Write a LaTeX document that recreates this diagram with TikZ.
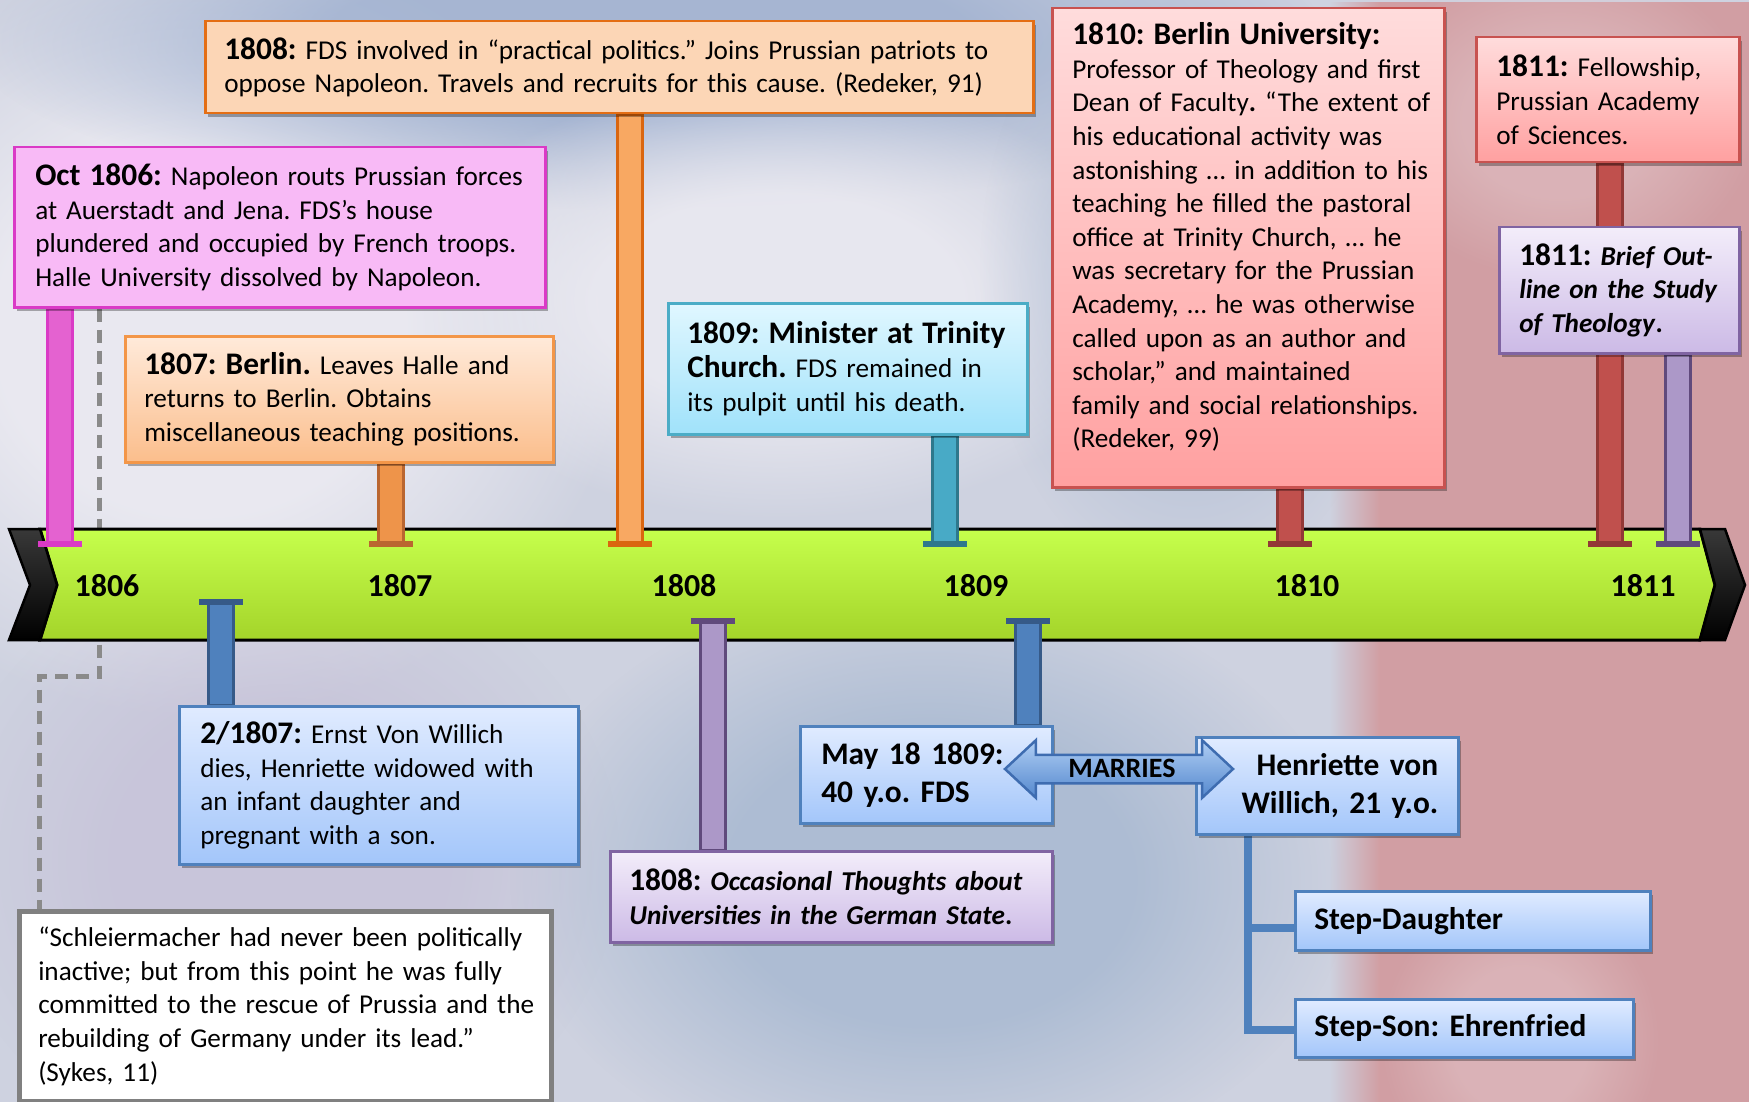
\documentclass[tikz,border=0pt]{standalone}
\usepackage{fontspec}
\setmainfont{Carlito}
\usetikzlibrary{calc,shadows,shapes.arrows,fadings}

% box and stem palette
\definecolor{pinkfill}{RGB}{248,186,246}
\definecolor{pinkrim}{RGB}{218,58,198}
\definecolor{pinkstem}{RGB}{228,98,208}
\definecolor{orgtop}{RGB}{255,234,218}
\definecolor{orgbot}{RGB}{251,190,140}
\definecolor{orgrim}{RGB}{243,150,72}
\definecolor{peachfill}{RGB}{252,214,182}
\definecolor{peachrim}{RGB}{228,110,20}
\definecolor{orgstemA}{RGB}{238,148,74}
\definecolor{orgstemArim}{RGB}{186,102,48}
\definecolor{orgstemB}{RGB}{248,168,98}
\definecolor{orgstemBrim}{RGB}{218,102,15}
\definecolor{cyantop}{RGB}{224,247,255}
\definecolor{cyanbot}{RGB}{160,226,250}
\definecolor{cyanrim}{RGB}{75,172,198}
\definecolor{tealstem}{RGB}{72,170,198}
\definecolor{tealrim}{RGB}{46,120,140}
\definecolor{redtop}{RGB}{255,220,220}
\definecolor{redbot}{RGB}{255,160,160}
\definecolor{redrim}{RGB}{200,82,80}
\definecolor{redstem}{RGB}{192,80,77}
\definecolor{redstemrim}{RGB}{146,56,54}
\definecolor{lavtop}{RGB}{243,237,250}
\definecolor{lavbot}{RGB}{204,186,230}
\definecolor{lavrim}{RGB}{128,100,162}
\definecolor{lavstem}{RGB}{172,152,200}
\definecolor{lavstemrim}{RGB}{96,74,124}
\definecolor{bluetop}{RGB}{224,235,255}
\definecolor{bluebot}{RGB}{163,198,250}
\definecolor{bluerim}{RGB}{79,129,189}
\definecolor{bluestem}{RGB}{79,129,189}
\definecolor{bluestemrim}{RGB}{54,90,136}
\definecolor{limetop}{RGB}{198,255,76}
\definecolor{limebot}{RGB}{164,212,42}
\definecolor{guidegray}{RGB}{138,138,138}
\definecolor{quoterim}{RGB}{128,128,128}
\definecolor{arrowtop}{RGB}{176,206,244}
\definecolor{arrowbot}{RGB}{84,136,206}
\definecolor{arrowrim}{RGB}{62,108,176}
% backdrop tones
\definecolor{bgbase}{RGB}{206,210,224}
\definecolor{bgpale}{RGB}{236,235,242}
\definecolor{bgsteel}{RGB}{150,170,205}
\definecolor{bgmist}{RGB}{172,187,211}
\definecolor{bglilac}{RGB}{196,189,214}
\definecolor{bgslate}{RGB}{165,183,208}
\definecolor{bgrose}{RGB}{210,146,148}
\definecolor{bgblush}{RGB}{226,196,200}

% soft blob: opaque core, fading rim
\pgfdeclareradialshading{plateaushade}{\pgfpointorigin}{color(0bp)=(white); color(12bp)=(white); color(25bp)=(black); color(50bp)=(black)}
\pgfdeclarefading{plateau}{\pgfuseshading{plateaushade}}
% panel with a soft left edge
\pgfdeclarehorizontalshading{leftedgeshade}{100bp}{color(0bp)=(black); color(25bp)=(black); color(31bp)=(white); color(100bp)=(white)}
\pgfdeclarefading{leftsoft}{\pgfuseshading{leftedgeshade}}

\pgfdeclarelayer{photo}
\pgfdeclarelayer{guide}
\pgfdeclarelayer{band}
\pgfdeclarelayer{stems}
\pgfsetlayers{photo,guide,band,stems,main}

% heading run inside an event box
\newcommand\hd[1]{{\fontsize{31.4}{33.6}\selectfont\bfseries #1}}
% stem from a foot on the time band to a box edge
\newcommand\poststem[4]{%
  \filldraw[fill=#3, draw=#4, line width=3pt] ($(#1)+(-12.5,0)$) rectangle ($(#1 |- #2)+(12.5,0)$);
  \fill[#4] ($(#1)+(-22,-3)$) rectangle ($(#1)+(22,3)$);
}

\begin{document}
\begin{tikzpicture}[x=1pt, y=-1pt,
  flush/.style={align=left, execute at begin node={\rightskip=-80pt plus 1fil\relax}},
  geom/.style n args={3}{minimum width=#1pt, minimum height=#2pt, inner xsep=#3pt, text width={#1pt-2*#3pt}},
  evbox/.style={rectangle, anchor=north west, inner ysep=0pt, line width=2.5pt, text=black,
    font=\fontsize{27.2}{33.6}\selectfont\frenchspacing,
    drop shadow={shadow xshift=3pt, shadow yshift=-4pt, opacity=0.3, fill=black}},
  pinkbox/.style={evbox, fill=pinkfill, draw=pinkrim},
  orangebox/.style={evbox, top color=orgtop, bottom color=orgbot, draw=orgrim},
  peachbox/.style={evbox, fill=peachfill, draw=peachrim},
  cyanbox/.style={evbox, top color=cyantop, bottom color=cyanbot, draw=cyanrim},
  redbox/.style={evbox, top color=redtop, bottom color=redbot, draw=redrim},
  lavbox/.style={evbox, top color=lavtop, bottom color=lavbot, draw=lavrim},
  bluebox/.style={evbox, top color=bluetop, bottom color=bluebot, draw=bluerim},
  quotebox/.style={evbox, fill=white, draw=quoterim, line width=4.5pt},
  bigbold/.style={font=\fontsize{31.4}{38}\selectfont\bfseries\frenchspacing},
  yearlbl/.style={inner sep=0pt, font=\fontsize{32}{34}\selectfont\bfseries},
  guideline/.style={draw=guidegray, line width=5pt, dash pattern=on 13pt off 8pt},
  branch/.style={draw=bluestem, line width=8pt}
]
\useasboundingbox (0,0) rectangle (1749,1102);

% faded portrait backdrop
\begin{pgfonlayer}{photo}
  \fill[bgbase] (0,0) rectangle (1749,1102);
  \foreach \col/\cx/\cy/\rx/\ry/\op in {
    bgpale/200/330/430/390/0.9,
    bgsteel/650/40/680/170/0.7,
    bgpale/780/300/380/220/0.85,
    bgmist/1190/270/210/320/0.6,
    bglilac/280/860/340/310/0.6,
    bgslate/930/880/420/300/0.8}
    {\fill[\col, opacity=\op, path fading=plateau] (\cx,\cy) ellipse [x radius=\rx, y radius=\ry];}
  \fill[bgrose, opacity=0.8, path fading=leftsoft] (1330,0) rectangle (1749,1102);
  \foreach \cx/\cy/\rx/\ry in {1560/120/200/160, 1520/1040/140/150}
    {\fill[bgblush, opacity=0.55, path fading=plateau] (\cx,\cy) ellipse [x radius=\rx, y radius=\ry];}
\end{pgfonlayer}

% time band with chevron ends
\begin{pgfonlayer}{band}
  \path[top color=limetop, bottom color=limebot, draw=black, line width=3pt]
    (40,529) -- (1700,529) -- (1715,585) -- (1700,640) -- (40,640) -- (57,585) -- cycle;
  \path[top color=black!78, bottom color=black, draw=black, line width=2.5pt]
    (9,529) -- (40,529) -- (57,585) -- (40,640) -- (9,640) -- (30,585) -- cycle;
  \path[top color=black!78, bottom color=black, draw=black, line width=2.5pt]
    (1700,529) -- (1725,529) -- (1745,585) -- (1725,640) -- (1700,640) -- (1715,585) -- cycle;
\end{pgfonlayer}

\node[yearlbl] (y1806) at (107,586) {1806};
\node[yearlbl] (y1807) at (400,586) {1807};
\node[yearlbl] (y1808) at (684,586) {1808};
\node[yearlbl] (y1809) at (976,586) {1809};
\node[yearlbl] (y1810) at (1307,586) {1810};
\node[yearlbl] (y1811) at (1643,586) {1811};

% events above the band
\node[pinkbox, flush, geom={531}{160}{21}] (oct) at (13,146)
  {\hd{Oct 1806:} Napoleon routs Prussian forces\\at Auerstadt and Jena. FDS’s house\\plundered and occupied by French troops.\\Halle University dissolved by Napoleon.};
\node[orangebox, flush, geom={428}{126}{19}] (berlin) at (124,335)
  {\hd{1807: Berlin.} Leaves Halle and\\returns to Berlin. Obtains\\miscellaneous teaching positions.};
\node[peachbox, flush, geom={828}{92}{19}] (politics) at (204,20)
  {\hd{1808:} FDS involved in “practical politics.” Joins Prussian patriots to\\oppose Napoleon. Travels and recruits for this cause. (Redeker, 91)};
\node[cyanbox, flush, geom={359}{131}{19}] (trinity) at (667,302)
  {\hd{1809: Minister at Trinity}\\\hd{Church.} FDS remained in\\its pulpit until his death.};
\node[redbox, flush, geom={392}{479}{20}] (univ) at (1051,7)
  {\hd{1810: Berlin University:}\\Professor of Theology and first\\Dean of Faculty\textbf{.} “The extent of\\his educational activity was\\astonishing … in addition to his\\teaching he filled the pastoral\\office at Trinity Church, … he\\was secretary for the Prussian\\Academy, … he was otherwise\\called upon as an author and\\scholar,” and maintained\\family and social relationships.\\(Redeker, 99)\rule[-25pt]{0pt}{1pt}};
\node[redbox, flush, geom={263}{125}{20}] (fellow) at (1475,36)
  {\hd{1811:} Fellowship,\\Prussian Academy\\of Sciences.};
\node[lavbox, flush, geom={240}{126}{20}] (outline) at (1498,226)
  {\hd{1811:} \textbf{\textit{Brief Out-}}\\\textbf{\textit{line on the Study}}\\\textbf{\textit{of Theology}}\textbf{.}};

% events below the band
\node[bluebox, flush, geom={399}{158}{21}] (widow) at (178,705)
  {\hd{2/1807:} Ernst Von Willich\\dies, Henriette widowed with\\an infant daughter and\\pregnant with a son.};
\node[lavbox, flush, geom={442}{91}{19}] (thoughts) at (609,850)
  {\hd{1808:} \textbf{\textit{Occasional Thoughts about}}\\\textbf{\textit{Universities in the German State}}\textbf{.}};
\node[bluebox, flush, bigbold, geom={252}{97}{21}] (fds) at (799,725)
  {May 18 1809:\\40 y.o. FDS};
\node[bluebox, align=right, bigbold, geom={262}{97}{20}] (henriette) at (1195,736)
  {Henriette von\\Willich, 21 y.o.};
\node[bluebox, flush, bigbold, geom={355}{59}{19}] (daughter) at (1294,890) {Step-Daughter};
\node[bluebox, flush, bigbold, geom={338}{58}{19}] (son) at (1294,998) {Step-Son: Ehrenfried};
\node[quotebox, flush, geom={532}{190}{19}] (sykes) at (17,909)
  {“Schleiermacher had never been politically\\inactive; but from this point he was fully\\committed to the rescue of Prussia and the\\rebuilding of Germany under its lead.”\\(Sykes, 11)};

\node[double arrow, double arrow head extend=14.5pt, double arrow tip angle=86,
  minimum height=228pt, inner xsep=0pt, inner ysep=5pt, text height=16pt, text depth=0pt,
  top color=arrowtop, bottom color=arrowbot, draw=arrowrim, line width=2.5pt,
  font=\fontsize{28}{30}\selectfont\bfseries] (marries) at (1119,769) {\hspace*{6pt}MARRIES};

% dashed guide from the 1806 event to the quotation
\coordinate (bend1) at (99,676);
\coordinate (bend2) at (39,676);
\begin{pgfonlayer}{guide}
  \draw[guideline] (oct.south -| bend1) -- (bend1) -- (bend2) -- (bend2 |- sykes.north);
\end{pgfonlayer}

% stem feet on the band
\coordinate (fOct) at (60,544);
\coordinate (f1807) at (391,544);
\coordinate (f1808) at (630,544);
\coordinate (f1809) at (945,544);
\coordinate (f1810) at (1290,544);
\coordinate (f1811a) at (1610,544);
\coordinate (f1811b) at (1678,544);
\coordinate (fWidow) at (221,602);
\coordinate (f1808b) at (713,621);
\coordinate (f1809b) at (1028,621);
\coordinate (trunk) at ($(henriette.south west)+(53,0)$);

\begin{pgfonlayer}{stems}
  \poststem{fOct}{oct.south}{pinkstem}{pinkrim}
  \poststem{f1807}{berlin.south}{orgstemA}{orgstemArim}
  \poststem{f1808}{politics.south}{orgstemB}{orgstemBrim}
  \poststem{f1809}{trinity.south}{tealstem}{tealrim}
  \poststem{f1810}{univ.south}{redstem}{redstemrim}
  \poststem{f1811a}{fellow.south}{redstem}{redstemrim}
  \poststem{f1811b}{outline.south}{lavstem}{lavstemrim}
  \poststem{fWidow}{widow.north}{bluestem}{bluestemrim}
  \poststem{f1808b}{thoughts.north}{lavstem}{lavstemrim}
  \poststem{f1809b}{fds.north}{bluestem}{bluestemrim}
  \draw[branch] (trunk) |- ($(daughter.west)+(0,7)$);
  \draw[branch] (trunk) |- ($(son.west)+(0,2)$);
\end{pgfonlayer}
\end{tikzpicture}
\end{document}
